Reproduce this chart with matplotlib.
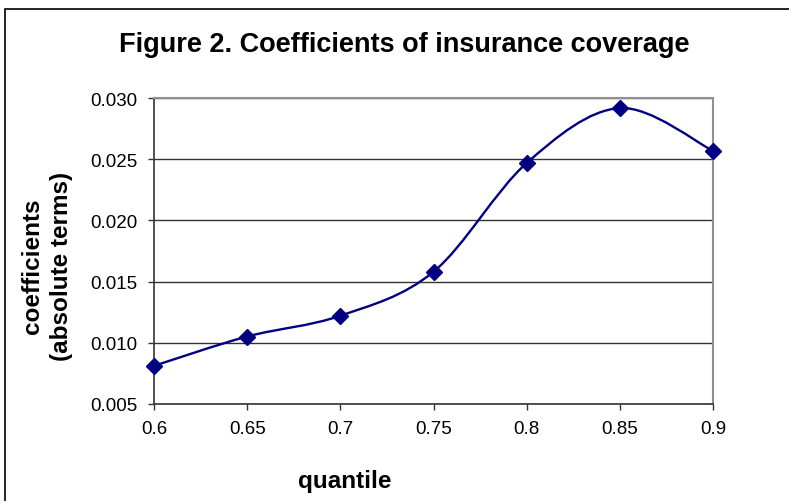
import matplotlib
matplotlib.use('Agg')
import matplotlib.pyplot as plt
from matplotlib.path import Path
from matplotlib.patches import PathPatch, Rectangle

# data
quantile = [0.6, 0.65, 0.7, 0.75, 0.8, 0.85, 0.9]
coef = [0.0081, 0.0105, 0.0122, 0.0158, 0.0247, 0.0292, 0.0257]
xticks = [0.6, 0.65, 0.7, 0.75, 0.8, 0.85, 0.9]
xlabels = ['0.6', '0.65', '0.7', '0.75', '0.8', '0.85', '0.9']
yticks = [0.005, 0.010, 0.015, 0.020, 0.025, 0.030]

navy = '#000080'
plt.rcParams['font.family'] = ['Liberation Sans', 'DejaVu Sans']

fig = plt.figure(figsize=(7.89, 5.02), dpi=100)
ax = fig.add_axes([154/789, 1 - 404.7/502, (713 - 154)/789, (404.7 - 99.3)/502])

# excel style smoothed line (catmull-rom as cubic bezier)
pts = list(zip(quantile, coef))
verts = [pts[0]]
codes = [Path.MOVETO]
n = len(pts)
for i in range(n - 1):
    p0 = pts[i - 1] if i > 0 else pts[i]
    p1 = pts[i]
    p2 = pts[i + 1]
    p3 = pts[i + 2] if i + 2 < n else pts[i + 1]
    c1 = (p1[0] + (p2[0] - p0[0]) / 6, p1[1] + (p2[1] - p0[1]) / 6)
    c2 = (p2[0] - (p3[0] - p1[0]) / 6, p2[1] - (p3[1] - p1[1]) / 6)
    verts += [c1, c2, p2]
    codes += [Path.CURVE4] * 3
ax.add_patch(PathPatch(Path(verts, codes), facecolor='none', edgecolor=navy,
                       lw=1.7, zorder=3, clip_on=False))
ax.plot(quantile, coef, linestyle='none', marker='D', ms=8.5, color=navy,
        zorder=4, clip_on=False)

ax.set_xlim(0.6, 0.9)
ax.set_ylim(0.005, 0.030)
ax.set_xticks(xticks)
ax.set_xticklabels(xlabels)
ax.set_yticks(yticks)
ax.set_yticklabels(['%.3f' % v for v in yticks])
ax.yaxis.grid(True, color='#333333', lw=1)
ax.set_axisbelow(True)
ax.tick_params(direction='out', length=4, width=1, color='#333333',
               labelsize=13.5)
ax.tick_params(axis='x', pad=8)
ax.tick_params(axis='y', pad=8)

for s in ['top', 'right']:
    ax.spines[s].set_color('#909090')
    ax.spines[s].set_linewidth(1.5)
for s in ['left', 'bottom']:
    ax.spines[s].set_color('#333333')
    ax.spines[s].set_linewidth(1.2)

fig.text(404/789, 1 - 45/502, 'Figure 2. Coefficients of insurance coverage',
         ha='center', va='center', fontsize=19.5, fontweight='bold')
fig.text(47/789, 1 - 266/502, 'coefficients\n(absolute terms)', rotation=90,
         ha='center', va='center', multialignment='center',
         fontsize=17.5, fontweight='bold', linespacing=1.3)
fig.text(345/789, 1 - 482/502, 'quantile', ha='center', va='center',
         fontsize=17.5, fontweight='bold')

# chart frame
fig.add_artist(Rectangle((5/789, -0.1), 1.1, 1 - 10/502 + 0.1,
                         transform=fig.transFigure, fill=False,
                         edgecolor='black', lw=1.2))

fig.savefig('out.png', dpi=100)
